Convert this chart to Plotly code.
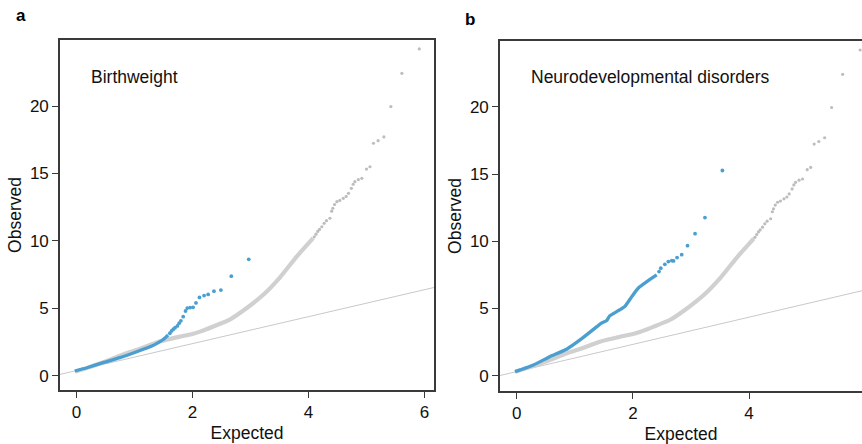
import plotly.graph_objects as go

# ---------------- data ----------------
# null / all-variant cloud (grey) - dense band part
grey_dense_x = [-0.02, 0.2, 0.5, 0.86, 1.1, 1.43, 1.78, 2.0, 2.13, 2.36, 2.65, 2.93, 3.22, 3.51, 3.80, 4.08]
grey_dense_y = [0.3, 0.6, 1.05, 1.67, 2.0, 2.53, 2.9, 3.1, 3.27, 3.65, 4.18, 5.0, 6.0, 7.3, 8.85, 10.2]
# grey sparse tail
grey_tail_x = [4.10, 4.13, 4.16, 4.19, 4.23, 4.27, 4.31, 4.37, 4.40, 4.42, 4.45, 4.49, 4.54, 4.60, 4.65,
               4.69, 4.74, 4.77, 4.80, 4.86, 4.92, 5.00, 5.06, 5.12, 5.20, 5.30, 5.42, 5.61, 5.91]
grey_tail_y = [10.3, 10.5, 10.7, 10.85, 11.05, 11.3, 11.5, 11.68, 12.2, 12.42, 12.7, 12.91, 13.0, 13.16, 13.3,
               13.53, 13.9, 14.2, 14.39, 14.55, 14.64, 15.33, 15.5, 17.24, 17.43, 17.71, 19.96, 22.43, 24.24]

# panel a: Birthweight (blue)
bw_dense_x = [-0.03, 0.18, 0.46, 0.75, 1.04, 1.30, 1.41, 1.50, 1.58]
bw_dense_y = [0.35, 0.59, 0.97, 1.34, 1.78, 2.20, 2.45, 2.70, 3.02]
bw_tail_x = [1.61, 1.64, 1.67, 1.70, 1.74, 1.77, 1.80, 1.84, 1.88, 1.91, 1.96, 2.01, 2.06, 2.12,
             2.20, 2.27, 2.37, 2.49, 2.67, 2.97]
bw_tail_y = [3.15, 3.32, 3.45, 3.56, 3.69, 3.90, 4.07, 4.38, 4.80, 5.02, 5.05, 5.07, 5.40, 5.81,
             5.94, 6.03, 6.27, 6.35, 7.38, 8.63]

# panel b: Neurodevelopmental disorders (blue)
nd_dense_x = [-0.03, 0.29, 0.57, 0.86, 1.09, 1.38, 1.45, 1.55, 1.60, 1.72, 1.80, 1.86, 1.98, 2.09, 2.24, 2.41]
nd_dense_y = [0.30, 0.80, 1.41, 1.97, 2.66, 3.65, 3.90, 4.10, 4.45, 4.77, 4.97, 5.14, 5.88, 6.51, 7.00, 7.50]
nd_tail_x = [2.45, 2.48, 2.55, 2.61, 2.67, 2.70, 2.76, 2.84, 2.94, 3.07, 3.24, 3.54]
nd_tail_y = [7.75, 8.00, 8.29, 8.49, 8.56, 8.54, 8.79, 9.01, 9.68, 10.57, 11.77, 15.27]

# reference lines (end points)
ref_a_x = [-0.3, 6.2]
ref_a_y = [0.08, 6.58]
ref_b_x = [-0.3, 6.0]
ref_b_y = [0.0, 6.38]

x_ticks = [0, 2, 4, 6]
y_ticks = [0, 5, 10, 15, 20]
panel_titles = ["Birthweight", "Neurodevelopmental disorders"]
panel_letters = ["a", "b"]

# ---------------- styling ----------------
W, H = 862, 444
GREY_BAND = "#d0d0d0"
GREY_DOT = "#bdbdbd"
REF = "#c9c9c9"
BLUE = "#4b9fd0"
AX = "#3a3a3a"
FONT = "Liberation Sans, Arial, sans-serif"

fig = go.Figure()

def add_panel(xa, ya, blue_dx, blue_dy, blue_tx, blue_ty, rx, ry):
    fig.add_trace(go.Scatter(x=rx, y=ry, mode="lines", line=dict(color=REF, width=1),
                             xaxis=xa, yaxis=ya, hoverinfo="skip", showlegend=False))
    fig.add_trace(go.Scatter(x=grey_dense_x, y=grey_dense_y, mode="lines",
                             line=dict(color=GREY_BAND, width=4.2, shape="spline", smoothing=0.5),
                             xaxis=xa, yaxis=ya, showlegend=False))
    fig.add_trace(go.Scatter(x=grey_tail_x, y=grey_tail_y, mode="markers",
                             marker=dict(color=GREY_DOT, size=3.2),
                             xaxis=xa, yaxis=ya, showlegend=False))
    fig.add_trace(go.Scatter(x=blue_dx, y=blue_dy, mode="lines",
                             line=dict(color=BLUE, width=3.3, shape="spline", smoothing=0.4),
                             xaxis=xa, yaxis=ya, showlegend=False))
    fig.add_trace(go.Scatter(x=blue_tx, y=blue_ty, mode="markers",
                             marker=dict(color=BLUE, size=3.8),
                             xaxis=xa, yaxis=ya, showlegend=False))

add_panel("x", "y", bw_dense_x, bw_dense_y, bw_tail_x, bw_tail_y, ref_a_x, ref_a_y)
add_panel("x2", "y2", nd_dense_x, nd_dense_y, nd_tail_x, nd_tail_y, ref_b_x, ref_b_y)

common_x = dict(tickmode="array", tickvals=x_ticks, ticktext=[str(t) for t in x_ticks],
                ticks="outside", ticklen=6, tickwidth=1.3, tickcolor=AX,
                showline=True, linecolor=AX, linewidth=1.6, mirror=True,
                showgrid=False, zeroline=False, automargin=False,
                tickfont=dict(size=17, color="#111", family=FONT),
                title=dict(text="Expected", font=dict(size=17.5, color="#111", family=FONT), standoff=6))
common_y = dict(tickmode="array", tickvals=y_ticks, ticktext=[str(t) for t in y_ticks],
                ticks="outside", ticklen=6, tickwidth=1.3, tickcolor=AX,
                showline=True, linecolor=AX, linewidth=1.6,
                showgrid=False, zeroline=False, automargin=False,
                tickfont=dict(size=17, color="#111", family=FONT),
                title=dict(text="Observed", font=dict(size=17.5, color="#111", family=FONT), standoff=4))

fig.update_layout(
    width=W, height=H,
    margin=dict(l=0, r=0, t=0, b=0),
    paper_bgcolor="white", plot_bgcolor="white",
    xaxis=dict(common_x, domain=[60 / W, 434 / W], range=[-0.284, 6.164], anchor="y"),
    yaxis=dict(common_y, domain=[1 - 390 / H, 1 - 40 / H], range=[-1.06, 24.9], anchor="x", mirror=True),
    xaxis2=dict(common_x, domain=[500 / W, 1.0], range=[-0.287, 5.943], anchor="y2"),
    yaxis2=dict(common_y, domain=[1 - 391 / H, 1 - 41 / H], range=[-1.14, 24.91], anchor="x2", mirror=False),
    annotations=[
        dict(text=panel_titles[0], x=89 / W, y=1 - 77 / H, xref="paper", yref="paper",
             xanchor="left", yanchor="middle", showarrow=False,
             font=dict(size=17.5, color="#111", family=FONT)),
        dict(text=panel_titles[1], x=529 / W, y=1 - 77 / H, xref="paper", yref="paper",
             xanchor="left", yanchor="middle", showarrow=False,
             font=dict(size=17.5, color="#111", family=FONT)),
        dict(text="<b>" + panel_letters[0] + "</b>", x=21 / W, y=1 - 16 / H, xref="paper", yref="paper",
             xanchor="center", yanchor="middle", showarrow=False,
             font=dict(size=17, color="#000", family=FONT)),
        dict(text="<b>" + panel_letters[1] + "</b>", x=470 / W, y=1 - 19 / H, xref="paper", yref="paper",
             xanchor="center", yanchor="middle", showarrow=False,
             font=dict(size=17, color="#000", family=FONT)),
    ],
)

fig.write_html("out.html")
